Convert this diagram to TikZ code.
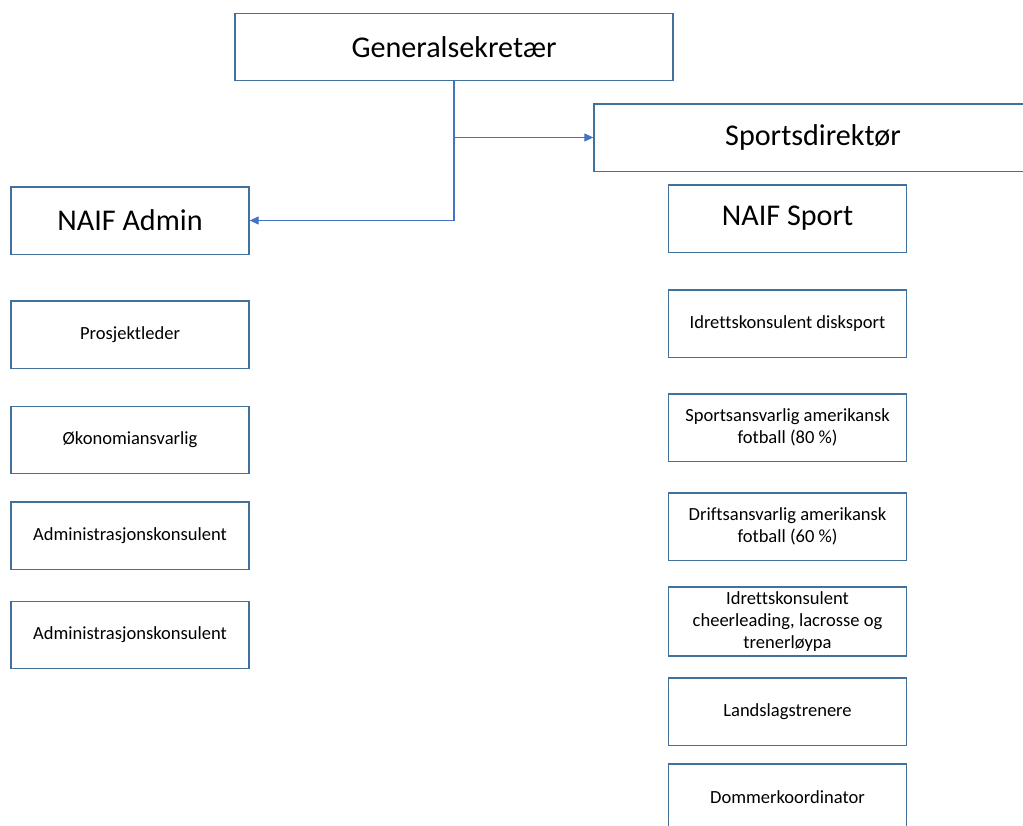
\documentclass[tikz,border=0pt]{standalone}
\usepackage{fontspec}
\setmainfont{Carlito}[Ligatures=NoCommon]
\usepackage{tikz}
\usetikzlibrary{arrows.meta}
\definecolor{boxline}{HTML}{41719C}
\definecolor{arrowline}{HTML}{4472C4}
\tikzstyle{leader} = [rectangle, minimum width=328.5pt, minimum height=50.5pt, text centered, draw=boxline, line width=1pt, font=\fontsize{22.6pt}{27pt}\selectfont]
\tikzstyle{unit} = [rectangle, minimum width=178.5pt, minimum height=50.5pt, text centered, draw=boxline, line width=1pt, font=\fontsize{22.6pt}{27pt}\selectfont]
\tikzstyle{role} = [rectangle, minimum width=178.5pt, minimum height=50.5pt, align=center, draw=boxline, line width=1pt, font=\fontsize{13.9pt}{16.5pt}\selectfont]
\tikzstyle{arrow} = [draw=arrowline, line width=0.8pt, -{Triangle[length=6.75pt,width=6pt]}]

\begin{document}
\begin{tikzpicture}[x=0.75pt, y=-0.75pt]
    \useasboundingbox (0,0) rectangle (1023,825);
    \fill [white] (0,0) rectangle (1023,825);
    \node (GenSek) [leader] at (454,47) {Generalsekretær};
    \node (SportDir) [leader] at (813,137.5) {Sportsdirektør};
    \node (NaifAdmin) [unit] at (130,220.5) {NAIF Admin};
    \node (NaifSport) [unit] at (787.5,218.5) {NAIF Sport};
    \node (Admin1) [role] at (130,334.5) {Prosjektleder};
    \node (Admin2) [role] at (130,440) {Økonomiansvarlig};
    \node (Admin3) [role] at (130,535.5) {Administrasjonskonsulent};
    \node (Admin4) [role] at (130,635) {Administrasjonskonsulent};
    \node (Sport1) [role] at (787.5,323.5) {Idrettskonsulent disksport};
    \node (Sport2) [role] at (787.5,427.5) {Sportsansvarlig amerikansk\\fotball (80 \%)};
    \node (Sport3) [role] at (787.5,526.5) {Driftsansvarlig amerikansk\\fotball (60 \%)};
    \node (Sport4) [role] at (787.5,621.5) {Idrettskonsulent\\cheerleading, lacrosse og\\trenerløypa};
    \node (Sport5) [role] at (787.5,711.5) {Landslagstrenere};
    \node (Sport6) [role] at (787.5,797.5) {Dommerkoordinator};
    \draw [arrow] (GenSek.south) |- (NaifAdmin.east);
    \draw [arrow] (GenSek.south |- SportDir.west) -- (SportDir.west);
\end{tikzpicture}
\end{document}
